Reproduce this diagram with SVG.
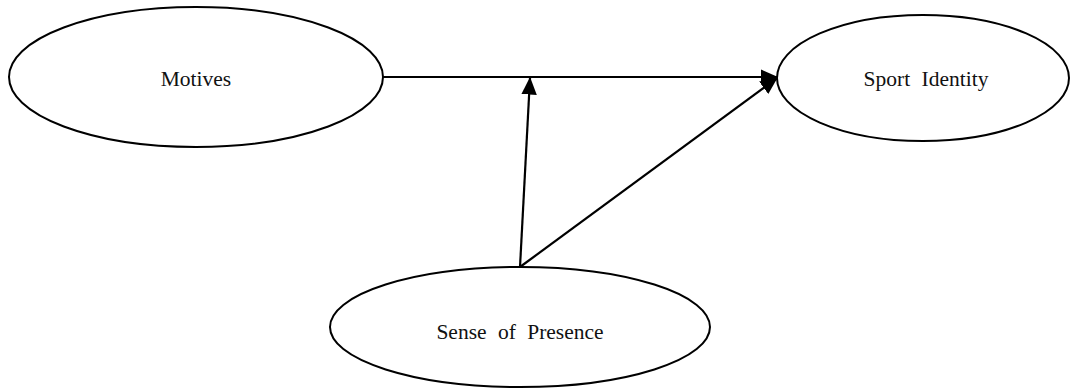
<svg xmlns="http://www.w3.org/2000/svg" width="1070" height="390" viewBox="0 0 1070 390">
<style>
.node ellipse{fill:#fff;stroke:#000;stroke-width:2}
.node text{font-family:"Liberation Serif","Times New Roman",serif;font-size:21.5px;word-spacing:6px;text-anchor:middle;fill:#111}
.edge{stroke:#000;stroke-width:2.2;fill:none;marker-end:url(#arr)}
</style>
<defs>
<marker id="arr" markerWidth="8" markerHeight="7" refX="7.5" refY="3.5" orient="auto" markerUnits="strokeWidth">
<path d="M0,0 L8,3.5 L0,7 z" fill="#000"/>
</marker>
</defs>
<rect width="1070" height="390" fill="#fff"/>
<g id="connectors">
<line class="edge" x1="383" y1="77" x2="777" y2="77"/>
<line class="edge" x1="520" y1="267" x2="530" y2="78"/>
<line class="edge" x1="520" y1="267" x2="777" y2="78"/>
</g>
<g id="motives" class="node">
<ellipse cx="196" cy="77" rx="187" ry="70"/>
<text x="196" y="86">Motives</text>
</g>
<g id="sport-identity" class="node">
<ellipse cx="923" cy="78" rx="146" ry="63"/>
<text x="926" y="86">Sport Identity</text>
</g>
<g id="sense-of-presence" class="node">
<ellipse cx="520" cy="327" rx="190" ry="60"/>
<text x="520" y="339">Sense of Presence</text>
</g>
</svg>
